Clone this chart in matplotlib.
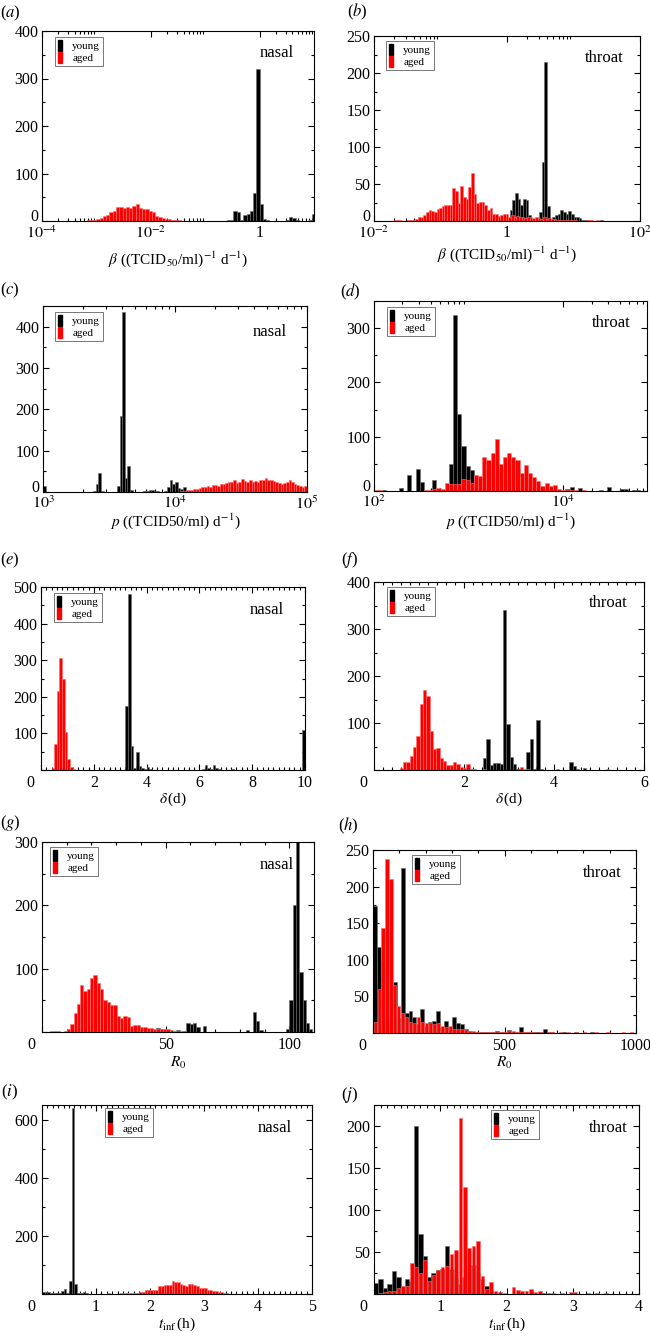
import numpy as np
import matplotlib
matplotlib.use("Agg")
import matplotlib.pyplot as plt
from matplotlib.patches import Patch
from matplotlib.ticker import FixedLocator, FixedFormatter, MultipleLocator, NullFormatter, FuncFormatter

plt.rcParams['font.family'] = ['Liberation Serif', 'DejaVu Serif']
plt.rcParams['mathtext.fontset'] = 'stix'

W, H = 650, 1339

# Histogram data: first bin edge, bin width, counts per bin.
# Log-x panels (a-d) use log10 units for the bin edges.

# (a) beta, nasal
a_young_start, a_young_width = -0.66, 0.06
a_young = [1, 2, 3, 22, 18, 3, 12, 14, 22, 60, 320, 35, 5, 2, 1, 1, 1, 1, 1, 3, 8, 6, 2, 1, 1, 1, 2, 15]
a_aged_start, a_aged_width = -3.30, 0.06
a_aged = [1, 1, 2, 2, 3, 5, 6, 10, 13, 18, 22, 29, 30, 27, 30, 28, 32, 35, 28, 26, 25, 22, 18, 11, 8, 6, 5,
          4, 3, 2, 2, 1, 1, 1]

# (b) beta, throat
b_young_start, b_young_width = -0.16, 0.04
b_young = [7, 2, 1, 1, 2, 15, 28, 38, 30, 22, 30, 28, 8, 3, 2, 2, 12, 80, 215, 20, 2, 5, 8, 10, 15, 12, 10, 14,
           10, 6, 5, 4, 2, 1, 1, 0, 0, 0, 0, 1]
b_aged_start, b_aged_width = -1.70, 0.04
b_aged = [1, 1, 1, 0, 0, 1, 1, 2, 3, 5, 5, 8, 12, 15, 14, 12, 16, 18, 20, 22, 22, 22, 44, 40, 25, 47, 33, 30,
          46, 65, 36, 24, 26, 26, 22, 15, 18, 10, 9, 6, 8, 9, 9, 6, 8, 6, 7, 6, 5, 4, 5, 6, 4, 5, 4, 3, 5, 3, 4,
          3, 3, 2, 2, 2, 1, 2, 1, 1, 1, 0, 0, 0, 1, 1, 1, 0, 1]

# (c) p, nasal
c_young_start, c_young_width = 3.00, 0.02
c_young = [15, 0, 0, 0, 0, 0, 0, 0, 0, 0, 0, 0, 0, 0, 0, 0, 0, 0, 1, 3, 20, 45, 3, 1, 0, 0, 0, 1, 15, 185, 435,
           35, 62, 5, 1, 0, 0, 1, 2, 3, 5, 4, 3, 2, 1, 0, 2, 12, 30, 20, 25, 10, 8, 12, 3, 2, 1]
c_aged_start, c_aged_width = 4.04, 0.02
c_aged = [2, 3, 4, 5, 6, 7, 8, 10, 12, 11, 14, 13, 16, 18, 15, 20, 19, 22, 25, 24, 28, 22, 25, 32, 27, 25, 28,
          24, 26, 25, 30, 28, 33, 30, 28, 26, 25, 22, 20, 22, 24, 30, 25, 20, 16, 14, 12, 15]

# (d) p, throat
d_young_start, d_young_width = 2.00, 0.044
d_young = [0, 0, 2, 0, 0, 0, 5, 0, 30, 0, 40, 17, 0, 0, 20, 0, 0, 0, 50, 325, 142, 82, 46, 38,
           0, 0, 0, 0, 0, 0, 0, 0, 0, 0, 0, 0, 0, 0, 0, 0, 0, 0, 0, 0, 0, 0,
           3, 7, 0, 6, 0, 0, 0, 0, 2, 0, 8, 0, 0, 4, 3, 0, 2, 1]
d_aged_start, d_aged_width = 2.00, 0.044
d_aged = [1, 2, 0, 0, 0, 0, 0, 0, 0, 0, 0, 0, 1, 2, 4, 5, 3, 14, 12, 12, 13, 22, 20, 15, 30, 28, 63, 58, 70,
          95, 50, 63, 70, 63, 58, 33, 48, 33, 25, 18, 10, 15, 10, 11, 3, 2, 2, 1, 1, 0, 1]

# (e) delta, nasal
e_young_start, e_young_width = 3.2, 0.1
e_young = [175, 480, 65, 5, 48, 10, 5, 2, 8, 2, 0, 0, 1, 0, 0, 0, 0, 0, 0, 0, 0, 0, 0, 0, 0, 0, 0, 0, 0,
           3, 15, 5, 3, 15, 5, 3, 0, 0, 0, 0, 2, 0, 0, 0, 0, 0, 0, 0, 1, 0, 0, 0, 0, 0, 0, 0, 0, 0, 0, 0,
           1, 0, 0, 0, 0, 0, 0, 110]
e_aged_start, e_aged_width = 0.4, 0.1
e_aged = [5, 70, 215, 305, 250, 105, 30, 8, 2]

# (f) delta, throat
f_young_start, f_young_width = 2.42, 0.074
f_young = [25, 65, 10, 15, 15, 12, 340, 97, 27, 13, 3, 2, 0, 38, 67, 2, 107, 2, 0, 0, 0, 1, 1, 1, 1, 0, 17, 8,
           3, 1, 4, 1, 1, 0, 1]
f_aged_start, f_aged_width = 0.57, 0.074
f_aged = [5, 18, 18, 30, 50, 73, 140, 170, 158, 83, 45, 47, 25, 20, 10, 10, 17, 12, 6, 5, 12, 3, 2, 1, 1, 2, 1,
          1, 1, 0, 1, 1, 0, 1, 1, 0, 6, 2, 3, 0, 0, 1, 0, 0, 0, 0, 0, 2, 0, 0, 0, 0, 0, 0, 0, 0, 0, 0, 0, 0,
          0, 0, 2, 1]

# (g) R0, nasal
g_young_start, g_young_width = 3.36, 1.342
g_young = [0] * 32 + [7, 4, 0, 0, 0, 0, 3, 0, 2, 15, 12, 15, 8, 0, 10, 0, 0, 0, 0, 0, 0, 0, 0, 0, 0, 0, 0,
                      3, 0, 32, 18, 3, 0, 0, 0, 0, 0, 0, 0, 5, 50, 200, 300, 95, 50, 15, 5]
g_aged_start, g_aged_width = 3.36, 1.342
g_aged = [1, 1, 1, 0, 2, 5, 12, 30, 45, 75, 65, 68, 85, 90, 78, 68, 50, 48, 42, 42, 25, 22, 25, 24, 10, 11,
          11, 8, 8, 7, 6, 4, 5, 5, 4, 5, 3, 2, 1, 1, 1]

# (h) R0, throat
h_young_start, h_young_width = 0.0, 15.0
h_young = [173, 117, 100, 20, 10, 70, 20, 225, 28, 30, 22, 12, 33, 10, 15, 17, 30, 8, 16, 8, 22, 14, 12, 6, 3,
           2, 1, 1, 1, 1, 1, 3, 1, 2, 4, 1, 1, 8, 1, 1, 2, 1, 1, 5, 1, 2, 0, 0, 1, 0, 0, 1, 0, 0, 0, 1]
h_aged_start, h_aged_width = 0.0, 15.0
h_aged = [15, 60, 143, 238, 210, 65, 37, 27, 22, 15, 13, 22, 15, 13, 13, 12, 13, 10, 8, 9, 6, 5, 5, 4, 3, 3,
          2, 2, 1, 1, 1, 1, 1, 2, 3, 3, 2, 1, 1, 1, 1, 0, 1, 0, 1, 1, 0, 1, 0, 1, 0, 1, 0, 1, 0, 0, 1, 0, 0, 1,
          0, 0, 0, 1, 0, 2]

# (i) t_inf, nasal
i_young_start, i_young_width = 0.0, 0.05
i_young = [8, 8, 6, 3, 5, 5, 5, 10, 18, 5, 45, 640, 35, 3, 2, 8, 2, 1]
i_aged_start, i_aged_width = 1.0, 0.05
i_aged = [0, 0, 0, 0, 2, 1, 1, 1, 1, 2, 3, 3, 4, 4, 5, 5, 6, 6, 15, 15, 14, 15, 15, 28, 28, 32, 32, 30, 45,
          42, 40, 35, 30, 28, 35, 34, 30, 28, 22, 20, 20, 15, 15, 10, 10, 8, 6, 5, 3, 1]

# (j) t_inf, throat
j_young_start, j_young_width = 0.0, 1 / 15
j_young = [13, 18, 7, 12, 27, 20, 8, 18, 15, 200, 72, 45, 20, 25, 28, 30, 57, 30, 20, 12, 20, 35, 35, 25, 18,
           10, 3, 1]
j_aged_start, j_aged_width = 0.0, 1 / 15
j_aged = [0, 1, 2, 3, 4, 7, 10, 10, 37, 32, 25, 41, 16, 23, 29, 32, 33, 48, 52, 210, 127, 55, 57, 63, 21, 6,
          14, 3, 2, 1, 0, 8, 5, 3, 3, 6, 2, 4, 1, 1, 1, 0, 1, 0, 2, 2, 0, 0, 1, 0, 1, 0, 1]

fig = plt.figure(figsize=(W / 100, H / 100), dpi=100)


def px_axes(l, t, r, b):
    return fig.add_axes([l / W, 1 - b / H, (r - l) / W, (b - t) / H])


def bars(ax, start, width, counts, color, edge, log=False, frac=1.0, shift=0.0):
    counts = np.asarray(counts, float)
    lo = start + width * (np.arange(len(counts)) + shift)
    hi = lo + width * frac
    if log:
        lo, hi = 10 ** lo, 10 ** hi
    keep = counts > 0
    ax.bar(lo[keep], counts[keep], width=(hi - lo)[keep], align='edge',
           color=color, edgecolor=edge, linewidth=0.4, zorder=2)


def style(ax, rect, xlim, ylim, ystep, y0, xlabel, xlab_y, tag, tag_xy, letter, letter_xy, leg_xy, xpad=3.5):
    l, t, r, b = rect
    ax.set_xlim(*xlim)
    ax.set_ylim(*ylim)
    ax.yaxis.set_major_locator(MultipleLocator(ystep))
    ax.yaxis.set_minor_locator(MultipleLocator(ystep / 2))
    ax.yaxis.set_major_formatter(FuncFormatter(lambda v, p: '' if abs(v) < 1e-9 else f'{v:g}'))
    if y0:
        # y "0" sits in the corner, nudged up a little to clear the first x label
        ax.annotate('0', xy=(0, 0), xycoords='axes fraction', xytext=(-2.5, 3),
                    textcoords='offset points', ha='right', va='center', fontsize=11.5)
    ax.tick_params(which='both', direction='in', top=True, right=True, width=0.8, labelsize=11.5)
    ax.tick_params(which='major', length=4)
    ax.tick_params(which='minor', length=2)
    ax.tick_params(axis='y', pad=2.5)
    ax.tick_params(axis='x', pad=xpad)
    for s in ax.spines.values():
        s.set_linewidth(0.8)
    lab = ax.set_xlabel(xlabel, fontsize=11)
    ax.xaxis.set_label_coords(0.5, -(xlab_y - b) / (b - t))
    lab.set_va('center')
    fig.text(tag_xy[0] / W, 1 - tag_xy[1] / H, tag, ha='center', va='center', fontsize=12)
    fig.text(letter_xy[0] / W, 1 - letter_xy[1] / H, '(' + '$' + letter + '$' + ')',
             ha='center', va='center', fontsize=12)
    handles = [Patch(facecolor='black', edgecolor='black'), Patch(facecolor='red', edgecolor='red')]
    leg = ax.legend(handles, ['young', 'aged'], loc='upper left',
                    bbox_to_anchor=(leg_xy[0] / W, 1 - leg_xy[1] / H), bbox_transform=fig.transFigure,
                    fontsize=8, handlelength=0.35, handleheight=1.1, handletextpad=0.9,
                    borderpad=0.3, labelspacing=0.05, borderaxespad=0, fancybox=False,
                    edgecolor='#777777', framealpha=1)
    leg.get_frame().set_linewidth(0.7)


def log_x(ax, majors, labels, minor_decades):
    ax.set_xscale('log')
    ax.xaxis.set_major_locator(FixedLocator(majors))
    ax.xaxis.set_major_formatter(FixedFormatter(labels))
    ax.xaxis.set_minor_locator(FixedLocator([m * 10.0 ** n for n in minor_decades for m in range(2, 10)]))
    ax.xaxis.set_minor_formatter(NullFormatter())


def lin_x(ax, major, minor):
    ax.xaxis.set_major_locator(MultipleLocator(major))
    ax.xaxis.set_minor_locator(MultipleLocator(minor))
    ax.xaxis.set_major_formatter(FuncFormatter(lambda v, p: '' if abs(v) < 1e-9 else f'{v:g}'))
    ax.annotate('0', xy=(0, 0), xycoords='axes fraction', xytext=(-7.5, -3.5),
                textcoords='offset points', ha='center', va='top', fontsize=11.5)


BLK, BLK_E = 'black', '#6e6e6e'
RED, RED_E = '#ff0000', '#ff7070'
beta_lab = r'$\beta$ ((TCID$_{50}$/ml)$^{-1}$ d$^{-1}$)'
p_lab = r'$p$ ((TCID50/ml) d$^{-1}$)'
delta_lab = r'$\delta\,$(d)'
r0_lab = r'$R_0$'
t_lab = r'$t_{\mathrm{inf}}\,$(h)'

# (a)
rect = (42, 31, 314, 221)
ax = px_axes(*rect)
bars(ax, a_young_start, a_young_width, a_young, BLK, BLK_E, log=True)
bars(ax, a_aged_start, a_aged_width, a_aged, RED, RED_E, log=True)
log_x(ax, [1e-4, 1e-2, 1], [r'$10^{-4}$', r'$10^{-2}$', '1'], [-4, -2, 0])
style(ax, rect, (1e-4, 10), (0, 400), 100, True, beta_lab, 259, 'nasal', (277, 53), 'a', (10, 13), (55, 37),
      xpad=3)

# (b)
rect = (374, 36, 640, 221)
ax = px_axes(*rect)
bars(ax, b_young_start, b_young_width, b_young, BLK, BLK_E, log=True)
bars(ax, b_aged_start, b_aged_width, b_aged, RED, RED_E, log=True)
log_x(ax, [1e-2, 1, 1e2], [r'$10^{-2}$', '1', r'$10^{2}$'], [-2, 0])
style(ax, rect, (1e-2, 1e2), (0, 250), 50, True, beta_lab, 254, 'throat', (604, 58), 'b', (357, 12), (386, 41),
      xpad=3)

# (c)
rect = (43, 306, 307, 492)
ax = px_axes(*rect)
bars(ax, c_young_start, c_young_width, c_young, BLK, BLK_E, log=True)
bars(ax, c_aged_start, c_aged_width, c_aged, RED, RED_E, log=True)
log_x(ax, [1e3, 1e4, 1e5], [r'$10^{3}$', r'$10^{4}$', r'$10^{5}$'], [3, 4])
style(ax, rect, (1e3, 1e5), (0, 450), 100, True, p_lab, 521, 'nasal', (270, 332), 'c', (10, 290), (55, 312),
      xpad=2.5)

# (d)
rect = (374, 301, 647, 491)
ax = px_axes(*rect)
bars(ax, d_young_start, d_young_width, d_young, BLK, BLK_E, log=True)
bars(ax, d_aged_start, d_aged_width, d_aged, RED, RED_E, log=True)
log_x(ax, [1e2, 1e4], [r'$10^{2}$', r'$10^{4}$'], [2, 4])
style(ax, rect, (1e2, 7.7e4), (0, 350), 100, True, p_lab, 521, 'throat', (611, 323), 'd', (350, 292), (387, 307),
      xpad=2.5)

# (e)
rect = (41, 587, 305, 770)
ax = px_axes(*rect)
bars(ax, e_young_start, e_young_width, e_young, BLK, BLK_E)
bars(ax, e_aged_start, e_aged_width, e_aged, RED, RED_E)
lin_x(ax, 2, 0.2)
style(ax, rect, (0, 10), (0, 500), 100, False, delta_lab, 799, 'nasal', (267, 610), 'e', (10, 560), (54, 593))

# (f)
rect = (374, 582, 644, 770)
ax = px_axes(*rect)
bars(ax, f_young_start, f_young_width, f_young, BLK, BLK_E)
bars(ax, f_aged_start, f_aged_width, f_aged, RED, RED_E)
lin_x(ax, 2, 0.2)
style(ax, rect, (0, 6), (0, 400), 100, False, delta_lab, 799, 'throat', (608, 603), 'f', (350, 560), (387, 587))

# (g)
rect = (42, 842, 314, 1032)
ax = px_axes(*rect)
bars(ax, g_young_start, g_young_width, g_young, BLK, BLK_E)
bars(ax, g_aged_start, g_aged_width, g_aged, RED, RED_E)
lin_x(ax, 50, 10)
style(ax, rect, (0, 110), (0, 300), 100, False, r0_lab, 1063, 'nasal', (277, 865), 'g', (10, 823), (50, 847))

# (h)
rect = (373, 850, 636, 1033)
ax = px_axes(*rect)
bars(ax, h_young_start, h_young_width, h_young, BLK, BLK_E)
bars(ax, h_aged_start, h_aged_width, h_aged, RED, RED_E, frac=0.8, shift=0.15)
lin_x(ax, 500, 100)
style(ax, rect, (0, 1000), (0, 250), 50, False, r0_lab, 1063, 'throat', (602, 873), 'h', (348, 826), (412, 855))

# (i)
rect = (42, 1105, 312, 1294)
ax = px_axes(*rect)
bars(ax, i_young_start, i_young_width, i_young, BLK, BLK_E)
bars(ax, i_aged_start, i_aged_width, i_aged, RED, RED_E)
lin_x(ax, 1, 0.1)
style(ax, rect, (0, 5), (0, 650), 200, False, t_lab, 1324, 'nasal', (275, 1128), 'i', (10, 1092), (105, 1108))

# (j)
rect = (374, 1105, 639, 1294)
ax = px_axes(*rect)
bars(ax, j_young_start, j_young_width, j_young, BLK, BLK_E)
bars(ax, j_aged_start, j_aged_width, j_aged, RED, RED_E, frac=0.8, shift=0.15)
lin_x(ax, 1, 0.1)
style(ax, rect, (0, 4), (0, 225), 50, False, t_lab, 1324, 'throat', (608, 1128), 'j', (350, 1095), (491, 1110))

fig.savefig('out.png', dpi=100)
